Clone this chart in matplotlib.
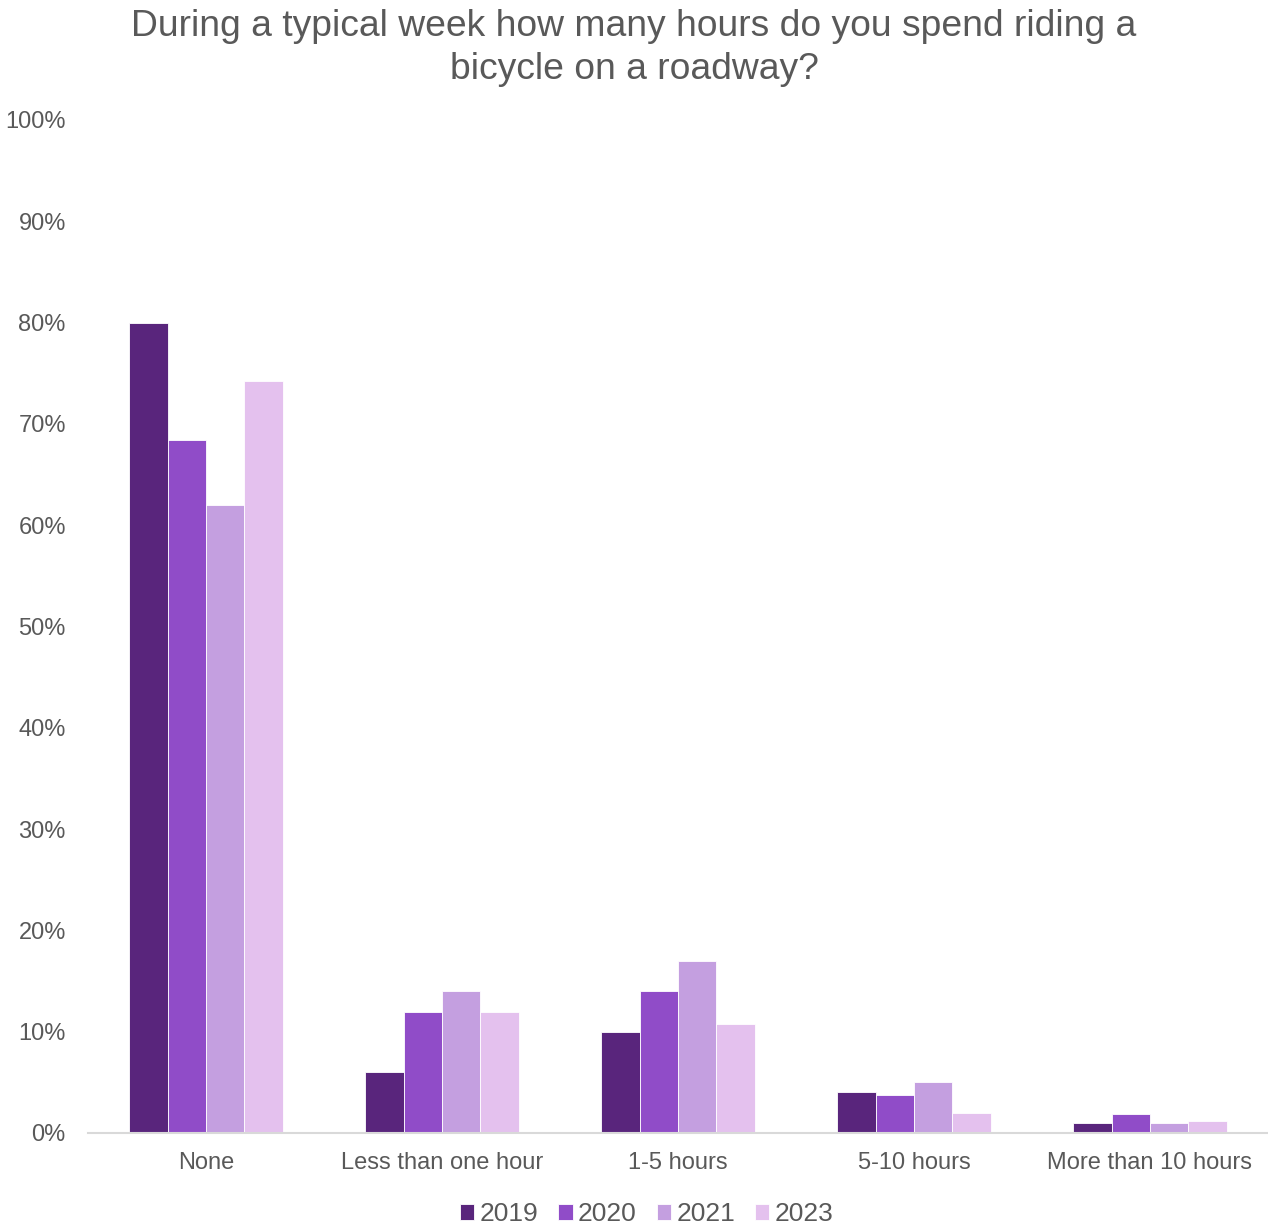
import matplotlib.pyplot as plt
import numpy as np

plt.rcParams['font.family'] = ['Liberation Sans', 'DejaVu Sans']

categories = ['None', 'Less than one hour', '1-5 hours', '5-10 hours', 'More than 10 hours']
years = ['2019', '2020', '2021', '2023']
values = {
    '2019': [80.0, 6.0, 10.0, 4.0, 1.0],
    '2020': [68.4, 11.9, 14.0, 3.7, 1.9],
    '2021': [62.0, 14.0, 17.0, 5.0, 1.0],
    '2023': [74.2, 11.9, 10.8, 2.0, 1.2],
}
colors = ['#59257C', '#904CC8', '#C49FE0', '#E4C1EE']
text_color = '#595959'

fig = plt.figure(figsize=(12.68, 12.28), dpi=100)
ax = fig.add_axes([0.0694, 0.0774, 0.9306, 0.8249])

x = np.arange(len(categories))
w = 0.65 / len(years)
for i, yr in enumerate(years):
    ax.bar(x + (i - 1.5) * w, values[yr], width=w, color=colors[i],
           edgecolor='white', linewidth=0.6, label=yr, zorder=2)

ax.set_xlim(-0.5, len(categories) - 0.5)
ax.set_ylim(0, 100)
ax.set_yticks(range(0, 101, 10))
ax.set_yticklabels([f'{v}%' for v in range(0, 101, 10)])
ax.set_xticks(x)
ax.set_xticklabels(categories)
ax.tick_params(axis='both', length=0, labelsize=17, colors=text_color)
ax.tick_params(axis='y', pad=16)
ax.tick_params(axis='x', pad=14)

for s in ['top', 'right', 'left']:
    ax.spines[s].set_visible(False)
ax.spines['bottom'].set_color('#D9D9D9')
ax.spines['bottom'].set_linewidth(1.5)

fig.suptitle('During a typical week how many hours do you spend riding a\nbicycle on a roadway?',
             y=0.993, fontsize=26.8, color=text_color, linespacing=1.3)

leg = fig.legend(loc='lower center', bbox_to_anchor=(0.51, -0.018), ncol=4,
                 frameon=False, fontsize=19, handlelength=0.55, handleheight=0.55,
                 handletextpad=0.2, columnspacing=0.75)
for t in leg.get_texts():
    t.set_color(text_color)

fig.savefig('out.png', dpi=100)
